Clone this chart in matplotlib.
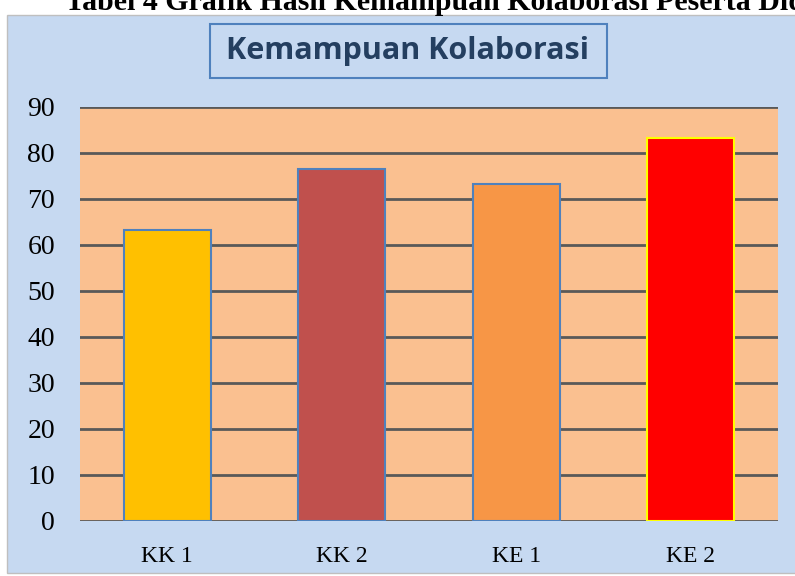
import matplotlib
matplotlib.use("Agg")
import matplotlib.pyplot as plt
from matplotlib.patches import Rectangle

# data
kategori = ["KK 1", "KK 2", "KE 1", "KE 2"]
nilai = [63.3, 76.6, 73.3, 83.3]
warna = ["#FFC000", "#C0504D", "#F79646", "#FF0000"]
tepi = ["#4F81BD", "#4F81BD", "#4F81BD", "#FFFF00"]
y_ticks = [0, 10, 20, 30, 40, 50, 60, 70, 80, 90]

W, H = 795, 576
fig = plt.figure(figsize=(7.95, 5.76), dpi=100)
fig.patch.set_facecolor("white")

# panel latar biru
panel = Rectangle((7 / W, 3 / H), 0.995, 558 / H, transform=fig.transFigure,
                  facecolor="#C6D9F1", edgecolor="#BFBFBF", linewidth=1, zorder=-2)
fig.patches.append(panel)

# judul tabel yang terpotong di atas
fig.text(65 / W, 1 - 10 / H, "Tabel 4 Grafik Hasil Kemampuan Kolaborasi Peserta Didik",
         ha="left", va="baseline", fontsize=21.5, fontweight="bold",
         family="Liberation Serif", color="black")

ax = fig.add_axes([80 / W, 1 - 521 / H, 698 / W, 414 / H])
ax.set_zorder(1)
ax.set_facecolor("#FAC090")
ax.set_axisbelow(True)
ax.yaxis.grid(True, color="#595959", linewidth=2)

x = range(len(kategori))
ax.bar(x, nilai, width=0.5, color=warna, edgecolor=tepi, linewidth=1.5, zorder=3)

ax.set_ylim(0, 90)
ax.set_xlim(-0.5, 3.5)
ax.set_yticks(y_ticks)
ax.set_xticks(list(x))
ax.set_xticklabels(kategori)
ax.tick_params(axis="both", length=0)
ax.tick_params(axis="y", labelsize=20, pad=18)
ax.tick_params(axis="x", labelsize=17, pad=18)
for lbl in ax.get_xticklabels() + ax.get_yticklabels():
    lbl.set_family("Liberation Serif")
for s in ax.spines.values():
    s.set_visible(False)

# kotak judul grafik
kotak = Rectangle((210 / W, 1 - 78 / H), 397 / W, 54 / H, transform=fig.transFigure,
                  facecolor="#C6D9F1", edgecolor="#4F81BD", linewidth=1.5, zorder=-1)
fig.patches.append(kotak)
fig.text(408 / W, 1 - 51 / H, "Kemampuan Kolaborasi", ha="center", va="center",
         fontsize=22, fontweight="bold", family="Open Sans", color="#243F60")

fig.savefig("out.png", dpi=100)
